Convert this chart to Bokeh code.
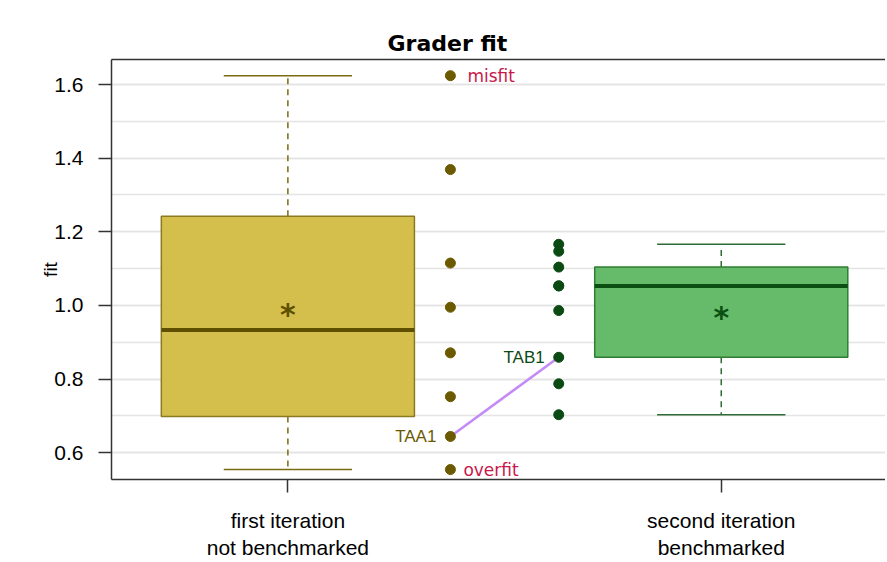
import numpy as np
from bokeh.plotting import figure
from bokeh.models import (Range1d, FixedTicker, SingleIntervalTicker, PrintfTickFormatter,
                          LinearAxis, Title)
from bokeh.core.properties import value
from bokeh.embed import file_html
from bokeh.resources import INLINE

# ---------------- data ----------------
title_text = "Grader fit"
group_labels = ["first iteration\nnot benchmarked", "second iteration\nbenchmarked"]
first_fit = [1.624, 1.369, 1.115, 0.995, 0.871, 0.752, 0.644, 0.554]
second_fit = [1.166, 1.147, 1.104, 1.053, 1.053, 0.986, 0.859, 0.787, 0.703]
point_labels_first = {"misfit": 1.624, "overfit": 0.554, "TAA1": 0.644}
point_labels_second = {"TAB1": 0.859}


def fivenum(v):
    x = np.sort(np.asarray(v, dtype=float))
    n = len(x)
    n4 = np.floor((n + 3) / 2) / 2
    d = np.array([1, n4, (n + 1) / 2, n + 1 - n4, n]) - 1
    return 0.5 * (x[np.floor(d).astype(int)] + x[np.ceil(d).astype(int)])


styles = [
    dict(fill="#D4BF4D", edge="#8C7A22", med="#5E5000", whisk="#7A6A10", dot="#6B5A00"),
    dict(fill="#66BB6A", edge="#2E7D32", med="#0B4F12", whisk="#2E6B35", dot="#0B4A12"),
]

p = figure(width=885, height=562, output_backend="svg", toolbar_location=None,
           x_range=Range1d(0.593, 2.379), y_range=Range1d(0.527, 1.668),
           min_border_left=111, min_border_right=0, min_border_top=59, min_border_bottom=10)
p.outline_line_color = None
p.background_fill_color = "white"
p.border_fill_color = "white"

# grids
p.xgrid.grid_line_color = None
p.ygrid.grid_line_color = "#E4E4E4"
p.ygrid.grid_line_width = 1.5
p.ygrid.minor_grid_line_color = "#E4E4E4"
p.ygrid.minor_grid_line_width = 1.5

# y axis
p.yaxis.ticker = SingleIntervalTicker(interval=0.2, num_minor_ticks=2)
p.yaxis.formatter = PrintfTickFormatter(format="%.1f")
p.yaxis.minor_tick_line_color = None
p.yaxis.major_tick_out = 13
p.yaxis.major_tick_in = 0
p.yaxis.major_label_standoff = 15
p.yaxis.major_label_text_font = "Liberation Sans"
p.yaxis.major_label_text_font_size = "21px"
p.yaxis.major_label_text_color = "black"
p.yaxis.axis_label = "fit"
p.yaxis.axis_label_text_font = "Liberation Sans"
p.yaxis.axis_label_text_font_size = "19px"
p.yaxis.axis_label_text_font_style = "normal"
p.yaxis.axis_label_text_color = "black"
p.yaxis.axis_label_standoff = -10
p.yaxis.axis_line_color = "#333333"
p.yaxis.axis_line_width = 1.5
p.yaxis.major_tick_line_color = "#333333"
p.yaxis.major_tick_line_width = 1.5

# bottom x axis (styled before the top line axis is added)
p.xaxis.ticker = FixedTicker(ticks=[1, 2])
p.xaxis.major_label_overrides = {1: group_labels[0], 2: group_labels[1]}
p.xaxis.minor_tick_line_color = None
p.xaxis.major_tick_out = 13
p.xaxis.major_tick_in = 0
p.xaxis.major_label_standoff = 16
p.xaxis.major_label_text_font = "Liberation Sans"
p.xaxis.major_label_text_font_size = "21px"
p.xaxis.major_label_text_color = "black"
p.xaxis.axis_line_color = "#333333"
p.xaxis.axis_line_width = 1.5
p.xaxis.major_tick_line_color = "#333333"
p.xaxis.major_tick_line_width = 1.5

# top frame line (an axis without ticks), then the title outside it
top_axis = LinearAxis(ticker=FixedTicker(ticks=[]), axis_line_color="#333333", axis_line_width=1.5,
                      major_tick_line_color=None, minor_tick_line_color=None,
                      major_tick_out=24, major_tick_in=0, major_label_standoff=0,
                      major_label_text_font_size="0px")
p.add_layout(top_axis, "above")

title = Title(text=title_text, align="left", vertical_align="bottom", offset=276, standoff=7,
              text_font="DejaVu Sans", text_font_size="22px", text_font_style="bold",
              text_color="black")
p.add_layout(title, "above")

box_half = 0.292
cap_half = 0.148
data = [first_fit, second_fit]
for i, (vals, st) in enumerate(zip(data, styles)):
    xc = i + 1
    lo, q1, med, q3, hi = fivenum(vals)
    mean = float(np.mean(vals))
    # whiskers
    p.segment(x0=[xc, xc], y0=[q3, q1], x1=[xc, xc], y1=[hi, lo],
              line_color=st["whisk"], line_width=1.5, line_dash="6 5")
    p.segment(x0=[xc - cap_half, xc - cap_half], y0=[hi, lo], x1=[xc + cap_half, xc + cap_half], y1=[hi, lo],
              line_color=st["whisk"], line_width=1.5)
    # box
    p.quad(left=[xc - box_half], right=[xc + box_half], bottom=[q1], top=[q3],
           fill_color=st["fill"], line_color=st["edge"], line_width=1.5)
    p.segment(x0=[xc - box_half], y0=[med], x1=[xc + box_half], y1=[med],
              line_color=st["med"], line_width=4)
    # mean asterisk
    p.text(x=[xc], y=[mean], text=["*"], text_font=value("DejaVu Sans"), text_font_style="bold",
           text_font_size=value("30px"), text_color=st["med"], text_align="center",
           text_baseline="middle", y_offset=6)

# dots
x_first = 1.375
x_second = 1.625
p.line(x=[x_first, x_second], y=[point_labels_first["TAA1"], point_labels_second["TAB1"]],
       line_color="#C48AF5", line_width=2.5)
p.scatter(x=[x_first] * len(first_fit), y=first_fit, size=10, fill_color=styles[0]["dot"],
          line_color=styles[0]["dot"])
p.scatter(x=[x_second] * len(second_fit), y=second_fit, size=10, fill_color=styles[1]["dot"],
          line_color=styles[1]["dot"])

# point labels
p.text(x=[x_first], y=[point_labels_first["misfit"]], text=["misfit"], x_offset=17,
       text_font=value("DejaVu Sans"), text_font_size=value("17px"), text_color="#C8174A",
       text_align="left", text_baseline="middle")
p.text(x=[x_first], y=[point_labels_first["overfit"]], text=["overfit"], x_offset=13,
       text_font=value("DejaVu Sans"), text_font_size=value("17px"), text_color="#C8174A",
       text_align="left", text_baseline="middle")
p.text(x=[x_first], y=[point_labels_first["TAA1"]], text=["TAA1"], x_offset=-14,
       text_font=value("Liberation Sans"), text_font_size=value("17px"), text_color=styles[0]["dot"],
       text_align="right", text_baseline="middle")
p.text(x=[x_second], y=[point_labels_second["TAB1"]], text=["TAB1"], x_offset=-14,
       text_font=value("Liberation Sans"), text_font_size=value("17px"), text_color=styles[1]["dot"],
       text_align="right", text_baseline="middle")

open("out.html", "w").write(file_html(p, INLINE))
